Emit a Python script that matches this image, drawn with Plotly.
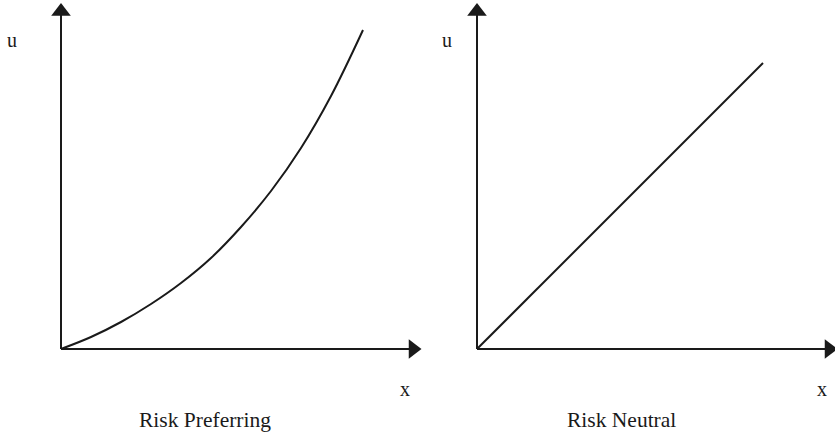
import plotly.graph_objects as go

# Read-off values (1 unit ~ 10 px in the reference)
pref_x = [0, 3, 6, 9, 12, 15, 18, 21, 24, 27, 30.2]
pref_u = [0, 1.2, 2.7, 4.5, 6.6, 9.1, 12.2, 15.8, 20.1, 25.3, 31.9]
neut_x = [0, 28.6]
neut_u = [0, 28.6]
axis_len_x = 35.2
axis_len_y = 33.75
titles = ["Risk Preferring", "Risk Neutral"]
ink = "#1a1a1a"
W, H = 835, 436

fig = go.Figure()

def add_panel(xa, ya, cx, cu):
    xr, yr = xa, ya
    fig.add_trace(go.Scatter(x=[0, axis_len_x], y=[0, 0], mode="lines",
                             line=dict(color=ink, width=2), xaxis=xr, yaxis=yr,
                             hoverinfo="skip", showlegend=False))
    fig.add_trace(go.Scatter(x=[0, 0], y=[0, axis_len_y], mode="lines",
                             line=dict(color=ink, width=2), xaxis=xr, yaxis=yr,
                             hoverinfo="skip", showlegend=False))
    fig.add_trace(go.Scatter(x=[axis_len_x], y=[0], mode="markers",
                             marker=dict(symbol="triangle-right", size=17, color=ink,
                                         line=dict(width=0)),
                             xaxis=xr, yaxis=yr, cliponaxis=False,
                             hoverinfo="skip", showlegend=False))
    fig.add_trace(go.Scatter(x=[0], y=[axis_len_y], mode="markers",
                             marker=dict(symbol="triangle-up", size=17, color=ink,
                                         line=dict(width=0)),
                             xaxis=xr, yaxis=yr, cliponaxis=False,
                             hoverinfo="skip", showlegend=False))
    fig.add_trace(go.Scatter(x=cx, y=cu, mode="lines", line_shape="spline",
                             line=dict(color=ink, width=2), xaxis=xr, yaxis=yr,
                             hoverinfo="skip", showlegend=False))

add_panel("x", "y", pref_x, pref_u)
add_panel("x2", "y2", neut_x, neut_u)

ax_common = dict(visible=False, showgrid=False, zeroline=False, fixedrange=True)
fig.update_layout(
    width=W, height=H,
    margin=dict(l=0, r=0, t=0, b=0),
    paper_bgcolor="white", plot_bgcolor="white",
    xaxis=dict(domain=[0, 0.5], range=[-6.1, 35.65], **ax_common),
    yaxis=dict(domain=[0, 1], range=[-8.7, 34.9], **ax_common),
    xaxis2=dict(domain=[0.5, 1], range=[-5.95, 35.8], **ax_common),
    yaxis2=dict(domain=[0, 1], range=[-8.7, 34.9], anchor="x2", **ax_common),
    font=dict(family="Liberation Serif, Times New Roman, serif", color=ink),
)

def ann(text, px, py, size):
    fig.add_annotation(text=text, x=px / W, y=1 - py / H, xref="paper", yref="paper",
                       showarrow=False, xanchor="center", yanchor="middle",
                       font=dict(size=size, family="Liberation Serif, serif", color=ink))

ann("u", 12, 40, 20)
ann("u", 446.5, 40, 20)
ann("x", 404.5, 389, 20)
ann("x", 822, 389, 20)
ann(titles[0], 204.5, 420, 21.5)
ann(titles[1], 621.5, 420, 21.5)

fig.write_html(
    "out.html",
    config={"displayModeBar": False},
    post_script="document.body.style.margin='0';document.body.style.overflow='hidden';",
)
